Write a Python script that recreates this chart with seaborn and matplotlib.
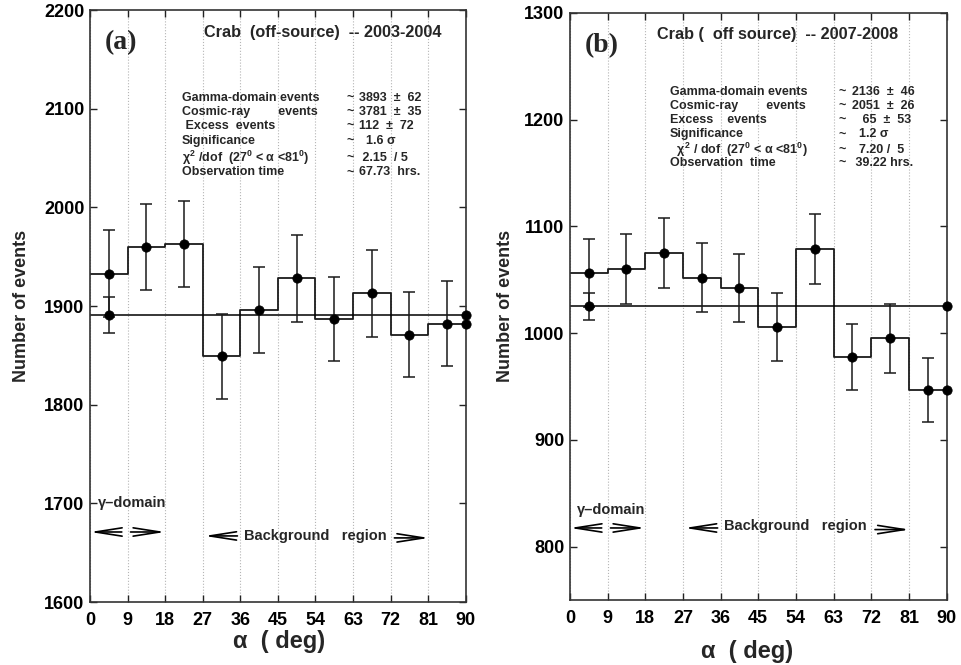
import numpy as np
import matplotlib
matplotlib.use("Agg")
import matplotlib.pyplot as plt
import seaborn as sns

# alpha bins (deg)
bin_edges = [0, 9, 18, 27, 36, 45, 54, 63, 72, 81, 90]
alpha_ticks = [0, 9, 18, 27, 36, 45, 54, 63, 72, 81, 90]

# panel (a): Crab off-source 2003-2004
counts_a = [1933, 1960, 1963, 1849, 1896, 1928, 1887, 1913, 1871, 1882]
errors_a = [44, 44, 44, 43, 44, 44, 43, 44, 43, 43]
bkg_a = 1891
bkg_err_a = 18
yticks_a = [1600, 1700, 1800, 1900, 2000, 2100, 2200]

# panel (b): Crab off-source 2007-2008
counts_b = [1056, 1060, 1075, 1052, 1042, 1006, 1079, 978, 995, 947]
errors_b = [32, 33, 33, 32, 32, 32, 33, 31, 32, 30]
bkg_b = 1025
bkg_err_b = 12.5
yticks_b = [800, 900, 1000, 1100, 1200, 1300]

title_a = "Crab  (off-source)  -- 2003-2004"
title_b = "Crab (  off source)  -- 2007-2008"

labels_a = ["Gamma-domain events", "Cosmic-ray        events", " Excess  events",
            "Significance", r"$\chi^{2}$ /dof  (27$^{0}$ < $\alpha$ <81$^{0}$)", "Observation time"]
values_a = ["3893  \u00b1  62", "3781  \u00b1  35", "112  \u00b1  72", "  1.6 \u03c3", " 2.15  / 5", "67.73  hrs."]
labels_b = ["Gamma-domain events", "Cosmic-ray        events", "Excess    events",
            "Significance", r"  $\chi^{2}$ / dof  (27$^{0}$ < $\alpha$ <81$^{0}$)", "Observation  time"]
values_b = ["2136  \u00b1  46", "2051  \u00b1  26", "   65  \u00b1  53", "  1.2 \u03c3", "  7.20 /  5", " 39.22 hrs."]

sns.set_theme(style="ticks")
plt.rcParams['font.family'] = ['Liberation Sans', 'DejaVu Sans']
plt.rcParams['font.weight'] = 'bold'
plt.rcParams['mathtext.fontset'] = 'custom'
plt.rcParams['mathtext.rm'] = 'Liberation Sans:bold'
plt.rcParams['mathtext.it'] = 'Liberation Sans:bold'
plt.rcParams['mathtext.bf'] = 'Liberation Sans:bold'
plt.rcParams['mathtext.sf'] = 'Liberation Sans:bold'

fig = plt.figure(figsize=(9.61, 6.65), dpi=100)
ax_a = fig.add_axes([0.0937, 0.0947, 0.391, 0.890])
ax_b = fig.add_axes([0.593, 0.0977, 0.392, 0.883])


def draw_panel(ax, counts, errors, bkg, bkg_err, ylim, yticks, tag, title,
               labels, values, rows_y, cols_x, arrow_y, gamma_text_y, bg_text_y):
    centers = [(bin_edges[i] + bin_edges[i + 1]) / 2 for i in range(len(counts))]
    step_y = list(counts) + [counts[-1]]
    sns.lineplot(x=bin_edges, y=step_y, drawstyle='steps-post', color='#1a1a1a',
                 lw=1.3, ax=ax, estimator=None, sort=False)
    ax.axhline(bkg, color='black', lw=1.1)
    ax.errorbar(centers, counts, yerr=errors, fmt='none', ecolor='#1a1a1a',
                elinewidth=1.1, capsize=4, capthick=1.1)
    sns.scatterplot(x=centers, y=counts, s=45, color='black', edgecolor='black',
                    ax=ax, zorder=5)
    # normalised background level with its error
    ax.errorbar([centers[0]], [bkg], yerr=[bkg_err], fmt='none', ecolor='#1a1a1a',
                elinewidth=1.1, capsize=4, capthick=1.1)
    sns.scatterplot(x=[centers[0], bin_edges[-1], bin_edges[-1]], y=[bkg, bkg, counts[-1]],
                    s=45, color='black', edgecolor='black', ax=ax, zorder=6, clip_on=False)

    ax.set_xlim(0, 90)
    ax.set_ylim(*ylim)
    ax.set_xticks(alpha_ticks)
    ax.set_yticks(yticks)
    ax.xaxis.grid(True, ls=':', color='#b5b5b5', lw=0.8)
    ax.yaxis.grid(False)
    ax.tick_params(direction='in', top=True, right=True, length=5, width=1,
                   colors='#222222', labelcolor='black')
    ax.tick_params(axis='x', labelsize=13, pad=7)
    ax.tick_params(axis='y', labelsize=13, pad=4)
    for lab in ax.get_xticklabels() + ax.get_yticklabels():
        lab.set_fontweight('bold')
    for sp in ax.spines.values():
        sp.set_color('#333333')
        sp.set_linewidth(1.2)
        sp.set_visible(True)

    ax.text(0.04, 0.945, tag, transform=ax.transAxes, family='Liberation Serif',
            fontsize=20, fontweight='bold', va='center', ha='left')
    ax.text(cols_x[0], 0.963, title, transform=ax.transAxes, fontsize=11.7,
            fontweight='bold', va='center', ha='left')

    for i in range(len(labels)):
        ax.text(cols_x[1], rows_y[i], labels[i], transform=ax.transAxes,
                fontsize=9, fontweight='bold', va='center', ha='left')
        ax.text(cols_x[2], rows_y[i], "~", transform=ax.transAxes,
                fontsize=9, fontweight='bold', va='center', ha='left')
        ax.text(cols_x[3], rows_y[i], values[i], transform=ax.transAxes,
                fontsize=9, fontweight='bold', va='center', ha='left')

    arr = dict(arrowstyle='->,head_length=1.6,head_width=0.25', lw=1.2,
               color='black', shrinkA=0, shrinkB=0)
    ax.annotate('', xy=(0, arrow_y[0]), xytext=(7.6, arrow_y[0]), arrowprops=arr)
    ax.annotate('', xy=(18, arrow_y[0]), xytext=(9.7, arrow_y[0]), arrowprops=arr)
    ax.annotate('', xy=(27.4, arrow_y[1]), xytext=(35.3, arrow_y[1]), arrowprops=arr)
    ax.annotate('', xy=(81.2, arrow_y[2]), xytext=(72.9, arrow_y[2]), arrowprops=arr)
    ax.text(1.8, gamma_text_y, "\u03b3\u2013domain", fontsize=10.5, fontweight='bold',
            va='center', ha='left')
    ax.text(36.8, bg_text_y, "Background   region", fontsize=10.5, fontweight='bold',
            va='center', ha='left')

    ax.set_ylabel("Number of events", fontsize=13, fontweight='bold')
    ax.set_xlabel("\u03b1  ( deg)", fontsize=17, fontweight='bold')


draw_panel(ax_a, counts_a, errors_a, bkg_a, bkg_err_a, (1600, 2200), yticks_a, "(a)", title_a,
           labels_a, values_a,
           [0.852, 0.828, 0.804, 0.779, 0.750, 0.726],
           [0.303, 0.245, 0.683, 0.716],
           [1671, 1667, 1665], 1700, 1667)
draw_panel(ax_b, counts_b, errors_b, bkg_b, bkg_err_b, (750, 1300), yticks_b, "(b)", title_b,
           labels_b, values_b,
           [0.865, 0.842, 0.817, 0.793, 0.767, 0.744],
           [0.23, 0.265, 0.712, 0.748],
           [817.5, 817.5, 816], 834.6, 819)

ax_a.yaxis.set_label_coords(-0.160, 0.5)
ax_b.yaxis.set_label_coords(-0.147, 0.5)
ax_a.xaxis.set_label_coords(0.503, -0.048)
ax_b.xaxis.set_label_coords(0.47, -0.068)

fig.savefig("out.png", dpi=100)
